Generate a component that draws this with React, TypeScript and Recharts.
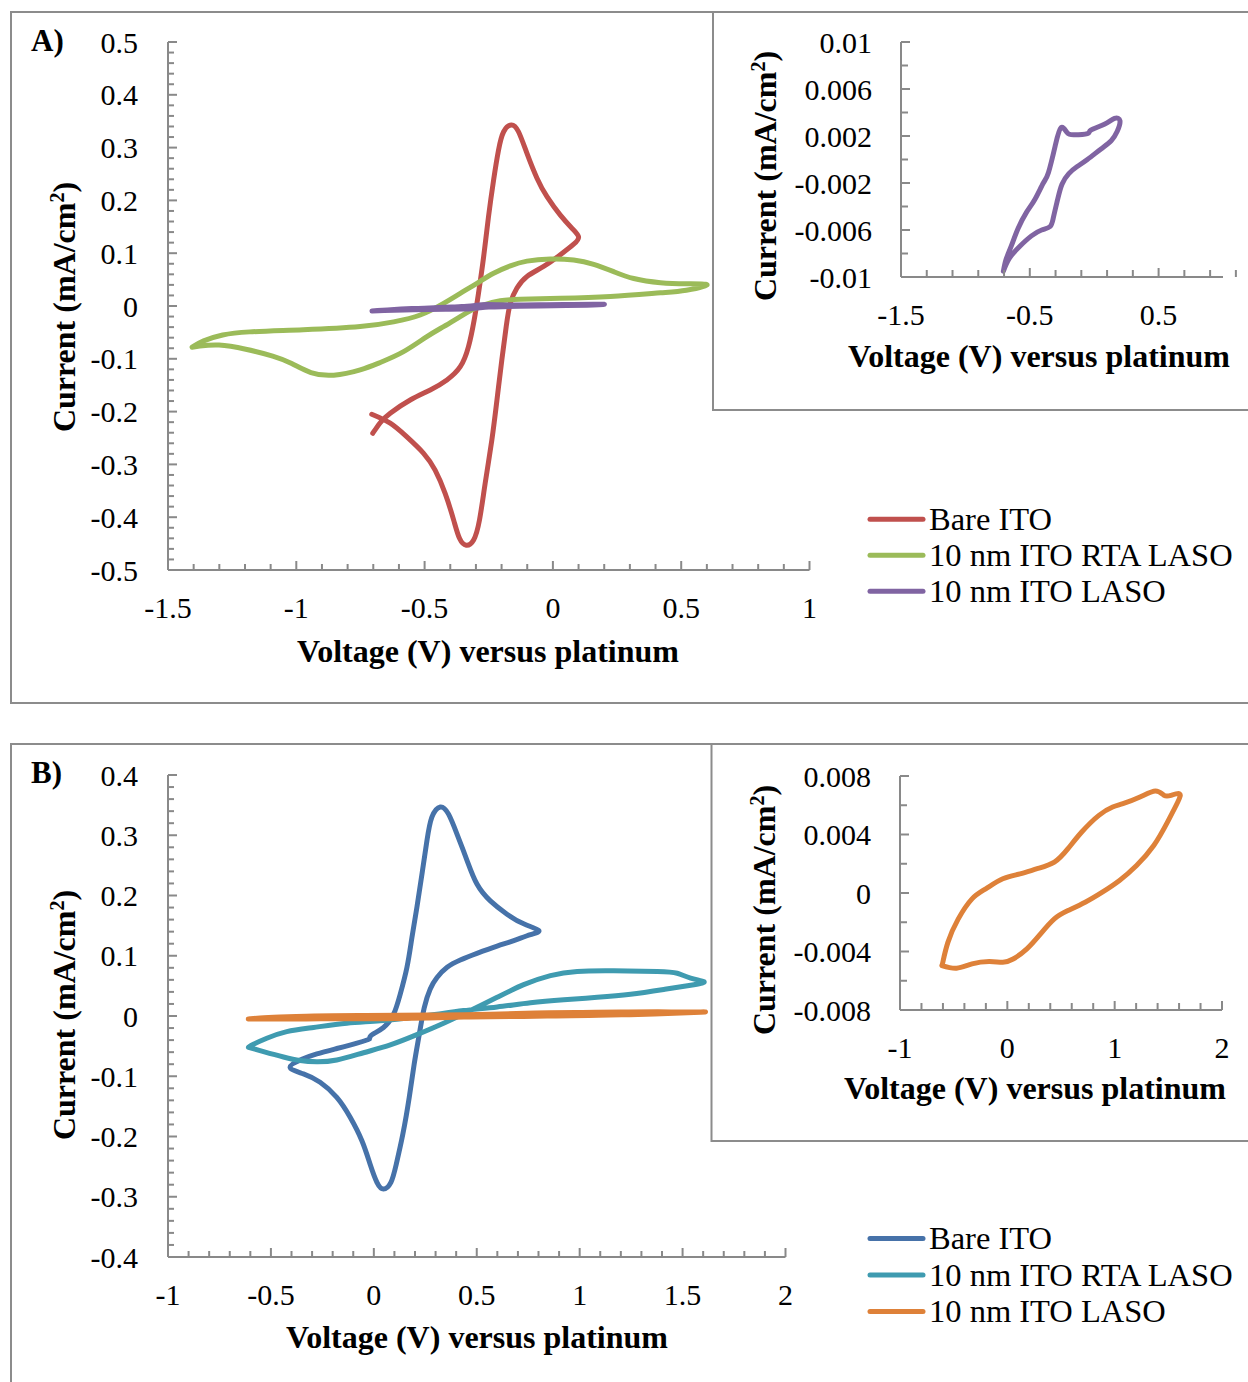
import { LineChart, Line, XAxis, YAxis } from 'recharts'

const FONT = "'Liberation Serif', 'Times New Roman', Times, serif"
const AXIS = '#898989'

// Panel A: voltage (V) vs current (mA/cm2)
const bareItoA: [number, number][] = [
  [-0.702, -0.241], [-0.673, -0.221], [-0.634, -0.203], [-0.556, -0.178], [-0.478, -0.159],
  [-0.413, -0.14], [-0.361, -0.115], [-0.329, -0.077], [-0.307, -0.027], [-0.29, 0.024],
  [-0.27, 0.093], [-0.251, 0.169], [-0.231, 0.239], [-0.212, 0.295], [-0.192, 0.33],
  [-0.162, 0.343], [-0.134, 0.33], [-0.101, 0.289], [-0.062, 0.242], [-0.023, 0.207],
  [0.029, 0.172], [0.075, 0.147], [0.1, 0.131], [0.081, 0.117], [0.029, 0.097],
  [-0.036, 0.075], [-0.101, 0.056], [-0.14, 0.034], [-0.166, 0.005], [-0.182, -0.039],
  [-0.199, -0.102], [-0.218, -0.178], [-0.238, -0.254], [-0.264, -0.336], [-0.286, -0.405],
  [-0.309, -0.443], [-0.338, -0.453], [-0.364, -0.44], [-0.387, -0.405], [-0.42, -0.355],
  [-0.459, -0.311], [-0.504, -0.279], [-0.569, -0.248], [-0.634, -0.222], [-0.706, -0.205],
]

const rtaLasoA: [number, number][] = [
  [-1.406, -0.078], [-1.361, -0.066], [-1.287, -0.055], [-1.182, -0.049], [-0.973, -0.045],
  [-0.751, -0.039], [-0.621, -0.03], [-0.517, -0.017], [-0.426, 0.005], [-0.361, 0.024],
  [-0.296, 0.043], [-0.231, 0.062], [-0.166, 0.076], [-0.101, 0.085], [-0.01, 0.089],
  [0.081, 0.087], [0.159, 0.079], [0.237, 0.065], [0.315, 0.052], [0.419, 0.044],
  [0.52, 0.042], [0.601, 0.04], [0.52, 0.03], [0.419, 0.025], [0.224, 0.018],
  [0.029, 0.0145], [-0.127, 0.0127], [-0.205, 0.01], [-0.283, 0.0], [-0.361, -0.02],
  [-0.426, -0.039], [-0.491, -0.058], [-0.582, -0.0865], [-0.673, -0.107], [-0.751, -0.121],
  [-0.854, -0.131], [-0.943, -0.126], [-1.018, -0.109], [-1.092, -0.095], [-1.197, -0.082],
  [-1.301, -0.074], [-1.376, -0.076], [-1.406, -0.078],
]

const lasoA: [number, number][] = [
  [-0.705, -0.0095], [-0.658, -0.0084], [-0.579, -0.0074], [-0.487, -0.0065], [-0.408, -0.006],
  [-0.342, -0.0057], [-0.316, -0.0049], [-0.284, -0.0034], [-0.25, -0.0021], [-0.197, -0.0012],
  [-0.132, -0.0006], [-0.053, 0.0], [0.053, 0.0009], [0.132, 0.0016], [0.179, 0.0024],
  [0.2, 0.0033], [0.158, 0.0035], [0.079, 0.003], [-0.026, 0.0025], [-0.053, 0.0022],
  [-0.158, 0.0021], [-0.211, 0.0023], [-0.258, 0.0027], [-0.303, 0.00115], [-0.355, -0.0011],
  [-0.395, -0.002], [-0.461, -0.0034], [-0.526, -0.0045], [-0.592, -0.0059], [-0.645, -0.0074],
  [-0.684, -0.0085], [-0.705, -0.0095],
]

// Panel B
const bareItoB: [number, number][] = [
  [-0.021, -0.038], [-0.009, -0.031], [0.047, -0.019], [0.096, 0.003], [0.128, 0.036],
  [0.161, 0.081], [0.185, 0.13], [0.209, 0.18], [0.234, 0.236], [0.258, 0.291],
  [0.282, 0.33], [0.323, 0.347], [0.363, 0.335], [0.404, 0.302], [0.453, 0.258],
  [0.501, 0.219], [0.566, 0.191], [0.647, 0.169], [0.728, 0.153], [0.801, 0.142],
  [0.761, 0.135], [0.68, 0.125], [0.599, 0.116], [0.501, 0.104], [0.42, 0.093],
  [0.356, 0.081], [0.307, 0.064], [0.274, 0.045], [0.245, 0.014], [0.221, -0.03],
  [0.196, -0.08], [0.172, -0.135], [0.141, -0.196], [0.109, -0.246], [0.083, -0.276],
  [0.047, -0.287], [0.015, -0.276], [-0.018, -0.246], [-0.058, -0.207], [-0.115, -0.168],
  [-0.18, -0.135], [-0.261, -0.11], [-0.342, -0.096], [-0.407, -0.085], [-0.35, -0.072],
  [-0.277, -0.063], [-0.18, -0.054], [-0.082, -0.045], [-0.026, -0.039],
]

const rtaLasoB: [number, number][] = [
  [-0.609, -0.052], [-0.536, -0.059], [-0.439, -0.068], [-0.358, -0.074], [-0.277, -0.076],
  [-0.18, -0.073], [-0.05, -0.061], [0.08, -0.048], [0.209, -0.031], [0.339, -0.012],
  [0.469, 0.009], [0.599, 0.031], [0.728, 0.052], [0.858, 0.067], [0.988, 0.074],
  [1.166, 0.075], [1.377, 0.074], [1.474, 0.071], [1.539, 0.063], [1.604, 0.057],
  [1.555, 0.052], [1.409, 0.044], [1.247, 0.036], [1.085, 0.031], [0.923, 0.027],
  [0.761, 0.022], [0.599, 0.015], [0.436, 0.009], [0.307, 0.003], [0.193, -0.002],
  [0.031, -0.008], [-0.131, -0.012], [-0.293, -0.019], [-0.423, -0.026], [-0.52, -0.037],
  [-0.585, -0.047], [-0.609, -0.052],
]

const lasoB: [number, number][] = [
  [-0.61, -0.00496], [-0.473, -0.00514], [-0.329, -0.00485], [-0.169, -0.00469], [-0.042, -0.00473],
  [0.054, -0.00451], [0.182, -0.00382], [0.31, -0.00279], [0.438, -0.00177], [0.565, -0.0012],
  [0.725, -0.00063], [0.885, 0.00006], [1.045, 0.00086], [1.204, 0.00188], [1.364, 0.00325],
  [1.492, 0.00485], [1.588, 0.00622], [1.604, 0.00679], [1.524, 0.00668], [1.46, 0.00668],
  [1.38, 0.00697], [1.236, 0.00656], [1.077, 0.00611], [0.981, 0.00588], [0.853, 0.00531],
  [0.693, 0.00417], [0.565, 0.00303], [0.438, 0.00211], [0.278, 0.00166], [0.118, 0.00131],
  [-0.042, 0.00097], [-0.201, 0.00029], [-0.329, -0.0004], [-0.457, -0.00177], [-0.553, -0.00336],
  [-0.601, -0.00473], [-0.61, -0.00496],
]

const seriesNames = ['Bare ITO', '10 nm ITO RTA LASO', '10 nm ITO LASO']
const colorsA = ['#C0504D', '#9BBB59', '#8064A2']
const colorsB = ['#4672A9', '#3F9BB0', '#DE8139']

// tick labels
const mainAX = [-1.5, -1, -0.5, 0, 0.5, 1]
const mainAY = [0.5, 0.4, 0.3, 0.2, 0.1, 0, -0.1, -0.2, -0.3, -0.4, -0.5]
const insetAX = [-1.5, -0.5, 0.5]
const insetAY = [0.01, 0.006, 0.002, -0.002, -0.006, -0.01]
const mainBX = [-1, -0.5, 0, 0.5, 1, 1.5, 2]
const mainBY = [0.4, 0.3, 0.2, 0.1, 0, -0.1, -0.2, -0.3, -0.4]
const insetBX = [-1, 0, 1, 2]
const insetBY = [0.008, 0.004, 0, -0.004, -0.008]

const steps = (from: number, to: number, step: number) =>
  Array.from({ length: Math.round((to - from) / step) + 1 }, (_, i) => +(from + i * step).toFixed(6))

const isIn = (list: number[], v: number) => list.some((l) => Math.abs(l - v) < 1e-9)

const toPts = (arr: [number, number][]) => arr.map(([v, i]) => ({ v, i }))

type Box = { l: number; t: number; r: number; b: number }

interface PlotProps {
  box: Box
  xDomain: [number, number]
  xLabels: number[]
  xStep: number
  yDomain: [number, number]
  yLabels: number[]
  yStep: number
  series: [number, number][][]
  colors: string[]
  minorLen: number
  yGap: number
}

function CvPlot({ box, xDomain, xLabels, xStep, yDomain, yLabels, yStep, series, colors, minorLen, yGap }: PlotProps) {
  const PL = 150, PT = 20, PR = 20, PB = 70, YW = 120, XH = 50
  const XGAP = 10
  const w = box.r - box.l
  const h = box.b - box.t

  const yTick = (p: any) => {
    const v = p.payload.value
    const major = isIn(yLabels, v)
    const ax = p.x + yGap
    return (
      <g>
        <line x1={ax} x2={ax + (major ? 9 : minorLen)} y1={p.y} y2={p.y} stroke={AXIS} strokeWidth={2} />
        {major && (
          <text x={p.x} y={p.y + 10.5} textAnchor="end" fontFamily={FONT} fontSize={30} fill="#000">
            {String(v)}
          </text>
        )}
      </g>
    )
  }

  const xTick = (p: any) => {
    const v = p.payload.value
    const major = isIn(xLabels, v)
    const ay = p.y - XGAP
    return (
      <g>
        <line x1={p.x} x2={p.x} y1={ay} y2={ay - (major ? 9 : minorLen)} stroke={AXIS} strokeWidth={2} />
        {major && (
          <text x={p.x} y={ay + 47.5} textAnchor="middle" fontFamily={FONT} fontSize={30} fill="#000">
            {String(v)}
          </text>
        )}
      </g>
    )
  }

  return (
    <div style={{ position: 'absolute', left: box.l - PL, top: box.t - PT }}>
      <LineChart
        width={PL + w + PR}
        height={PT + h + PB}
        margin={{ top: PT, right: PR, left: PL - YW, bottom: PB - XH }}
      >
        <XAxis
          type="number"
          dataKey="v"
          domain={xDomain}
          ticks={steps(xDomain[0], xDomain[1], xStep)}
          interval={0}
          allowDataOverflow
          tickLine={false}
          tickSize={0}
          tickMargin={XGAP}
          height={XH}
          axisLine={{ stroke: AXIS, strokeWidth: 2 }}
          tick={xTick}
        />
        <YAxis
          type="number"
          domain={yDomain}
          ticks={steps(yDomain[0], yDomain[1], yStep)}
          interval={0}
          allowDataOverflow
          tickLine={false}
          tickSize={0}
          tickMargin={yGap}
          width={YW}
          axisLine={{ stroke: AXIS, strokeWidth: 2 }}
          tick={yTick}
        />
        {series.map((s, k) => (
          <Line
            key={k}
            data={toPts(s)}
            dataKey="i"
            type="natural"
            stroke={colors[k]}
            strokeWidth={5}
            strokeLinecap="round"
            strokeLinejoin="round"
            dot={false}
            activeDot={false}
            isAnimationActive={false}
          />
        ))}
      </LineChart>
    </div>
  )
}

function YTitle({ x, y }: { x: number; y: number }) {
  return (
    <text
      transform={`translate(${x},${y}) rotate(-90)`}
      textAnchor="middle"
      fontFamily={FONT}
      fontWeight="bold"
      fontSize={32}
      fill="#000"
    >
      <tspan>Current (mA/cm</tspan>
      <tspan dy={-11} fontSize={20}>2</tspan>
      <tspan dy={11}>)</tspan>
    </text>
  )
}

function XTitle({ x, y }: { x: number; y: number }) {
  return (
    <text x={x} y={y} textAnchor="middle" fontFamily={FONT} fontWeight="bold" fontSize={32} fill="#000">
      Voltage (V) versus platinum
    </text>
  )
}

function LegendBlock({ x, y, gap, colors }: { x: number; y: number; gap: number; colors: string[] }) {
  return (
    <g>
      {seriesNames.map((n, k) => (
        <g key={n}>
          <line x1={x} x2={x + 53} y1={y + k * gap} y2={y + k * gap} stroke={colors[k]} strokeWidth={5} strokeLinecap="round" />
          <text x={x + 59} y={y + k * gap + 10.5} fontFamily={FONT} fontSize={32.5} fill="#000">
            {n}
          </text>
        </g>
      ))}
    </g>
  )
}

export default function App() {
  const border = '#8c8c8c'
  return (
    <div style={{ position: 'absolute', left: 0, top: 0, width: 1248, height: 1382, background: '#fff', overflow: 'hidden' }}>
      <svg width={1248} height={1382} style={{ position: 'absolute', left: 0, top: 0 }}>
        <rect x={11} y={12} width={1260} height={691} fill="#fff" stroke={border} strokeWidth={2} />
        <rect x={713} y={12} width={560} height={398} fill="#fff" stroke={border} strokeWidth={2} />
        <rect x={11} y={744} width={1260} height={700} fill="#fff" stroke={border} strokeWidth={2} />
        <rect x={711.5} y={744} width={560} height={397} fill="#fff" stroke={border} strokeWidth={2} />
      </svg>

      <CvPlot
        box={{ l: 167.5, t: 42, r: 809, b: 570 }}
        xDomain={[-1.5, 1]} xLabels={mainAX} xStep={0.1}
        yDomain={[-0.5, 0.5]} yLabels={mainAY} yStep={0.02}
        series={[bareItoA, rtaLasoA, lasoA]} colors={colorsA} minorLen={6} yGap={30}
      />
      <CvPlot
        box={{ l: 901, t: 42, r: 1223, b: 277 }}
        xDomain={[-1.5, 1]} xLabels={insetAX} xStep={0.2}
        yDomain={[-0.01, 0.01]} yLabels={insetAY} yStep={0.002}
        series={[lasoA]} colors={[colorsA[2]]} minorLen={7} yGap={29}
      />
      <CvPlot
        box={{ l: 167.5, t: 774.5, r: 785, b: 1256.5 }}
        xDomain={[-1, 2]} xLabels={mainBX} xStep={0.1}
        yDomain={[-0.4, 0.4]} yLabels={mainBY} yStep={0.02}
        series={[bareItoB, rtaLasoB, lasoB]} colors={colorsB} minorLen={6} yGap={30}
      />
      <CvPlot
        box={{ l: 899.5, t: 776, r: 1221.5, b: 1010 }}
        xDomain={[-1, 2]} xLabels={insetBX} xStep={0.2}
        yDomain={[-0.008, 0.008]} yLabels={insetBY} yStep={0.002}
        series={[lasoB]} colors={[colorsB[2]]} minorLen={7} yGap={29}
      />

      <svg width={1248} height={1382} style={{ position: 'absolute', left: 0, top: 0, pointerEvents: 'none' }}>
        <text x={31} y={51} fontFamily={FONT} fontWeight="bold" fontSize={31} fill="#000">A)</text>
        <text x={31} y={783} fontFamily={FONT} fontWeight="bold" fontSize={31} fill="#000">B)</text>

        <YTitle x={75} y={307} />
        <XTitle x={488} y={662} />
        <YTitle x={776} y={176} />
        <XTitle x={1039} y={367} />

        <YTitle x={75} y={1015} />
        <XTitle x={477} y={1348} />
        <YTitle x={774.5} y={910} />
        <XTitle x={1035} y={1098.5} />

        <LegendBlock x={870} y={519.3} gap={36} colors={colorsA} />
        <LegendBlock x={870} y={1238.5} gap={36.5} colors={colorsB} />
      </svg>
    </div>
  )
}
